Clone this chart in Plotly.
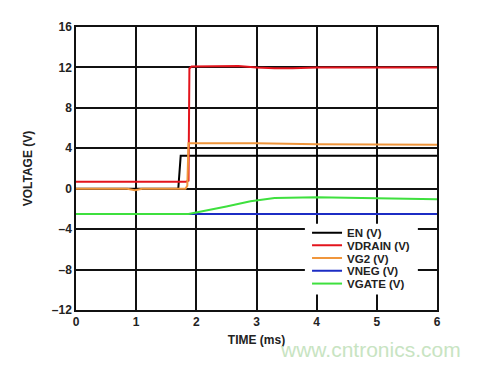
import plotly.graph_objects as go

# ---- data ----
en_t = [0, 1.70, 1.74, 6]
en_v = [0, 0, 3.25, 3.25]

vdrain_t = [0, 1.83, 1.87, 1.885, 1.92, 2.7, 3.0, 3.3, 3.6, 4.0, 6]
vdrain_v = [0.7, 0.7, 0.8, 11.9, 12.1, 12.15, 12.0, 11.92, 11.92, 12.0, 12.0]

vg2_t = [0, 0.85, 0.98, 1.1, 1.82, 1.85, 1.87, 3.0, 4.0, 6]
vg2_v = [0, 0, -0.15, 0, 0, 0.3, 4.5, 4.5, 4.4, 4.35]

vneg_t = [0, 6]
vneg_v = [-2.5, -2.5]

vgate_t = [0, 1.87, 2.5, 2.9, 3.3, 4.0, 5.0, 6]
vgate_v = [-2.5, -2.5, -1.75, -1.25, -0.92, -0.85, -0.95, -1.05]

series = [
    ("EN (V)", en_t, en_v, "#000000"),
    ("VDRAIN (V)", vdrain_t, vdrain_v, "#e3141c"),
    ("VG2 (V)", vg2_t, vg2_v, "#f0963c"),
    ("VNEG (V)", vneg_t, vneg_v, "#1c2cc4"),
    ("VGATE (V)", vgate_t, vgate_v, "#3ee03e"),
]

x_ticks = [0, 1, 2, 3, 4, 5, 6]
y_ticks = [16, 12, 8, 4, 0, -4, -8, -12]
y_tick_labels = ["16", "12", "8", "4", "0", "\u20134", "\u20138", "\u201312"]

font_family = "Liberation Sans, Arial, sans-serif"
txt = "#222222"
bold12 = dict(family=font_family, size=12, color=txt, weight="bold")
bold_leg = dict(family=font_family, size=11.5, color=txt, weight="bold")

# one legend per entry so the entries can sit as tightly as in the reference
legend_names = ["legend", "legend2", "legend3", "legend4", "legend5"]
legend_y = [0.2734, 0.2284, 0.1834, 0.1384, 0.0934]

fig = go.Figure()
for (name, t, v, c), lg in zip(series, legend_names):
    fig.add_trace(go.Scatter(x=t, y=v, mode="lines", name=name, legend=lg,
                             line=dict(color=c, width=2)))

layout_legends = {}
for lg, ly in zip(legend_names, legend_y):
    layout_legends[lg] = dict(
        x=0.64, y=ly, xanchor="left", yanchor="middle",
        bgcolor="rgba(0,0,0,0)", borderwidth=0,
        font=bold_leg, itemwidth=30,
    )

fig.update_layout(
    width=483, height=365,
    margin=dict(l=68, r=54, t=13, b=63),
    paper_bgcolor="white", plot_bgcolor="white",
    font=dict(family=font_family, size=12, color=txt),
    showlegend=True,
    xaxis=dict(
        range=[0, 6], tickvals=x_ticks, ticks="",
        showgrid=True, gridcolor="#111111", gridwidth=1.5,
        showline=True, linecolor="#111111", linewidth=1.5, mirror=True,
        zeroline=False, tickfont=bold12,
        title=dict(text="TIME (ms)", standoff=7, font=bold12),
    ),
    yaxis=dict(
        range=[-12, 16], tickvals=y_ticks, ticktext=y_tick_labels, ticks="",
        showgrid=True, gridcolor="#111111", gridwidth=1.5,
        showline=True, linecolor="#111111", linewidth=1.5, mirror=True,
        zeroline=False, tickfont=bold12,
        title=dict(text="VOLTAGE (V)", standoff=17, font=bold12),
    ),
    shapes=[
        dict(type="rect", xref="paper", yref="paper",
             x0=0.634, x1=0.947, y0=0.055, y1=0.305,
             fillcolor="white", line=dict(width=0), layer="above"),
    ],
    annotations=[
        dict(text="www.cntronics.com", xref="paper", yref="paper",
             x=1.072, y=-0.138, xanchor="right", yanchor="middle", showarrow=False,
             font=dict(family=font_family, size=21, color="#c8e4c2")),
    ],
    **layout_legends,
)

fig.write_html("out.html")
